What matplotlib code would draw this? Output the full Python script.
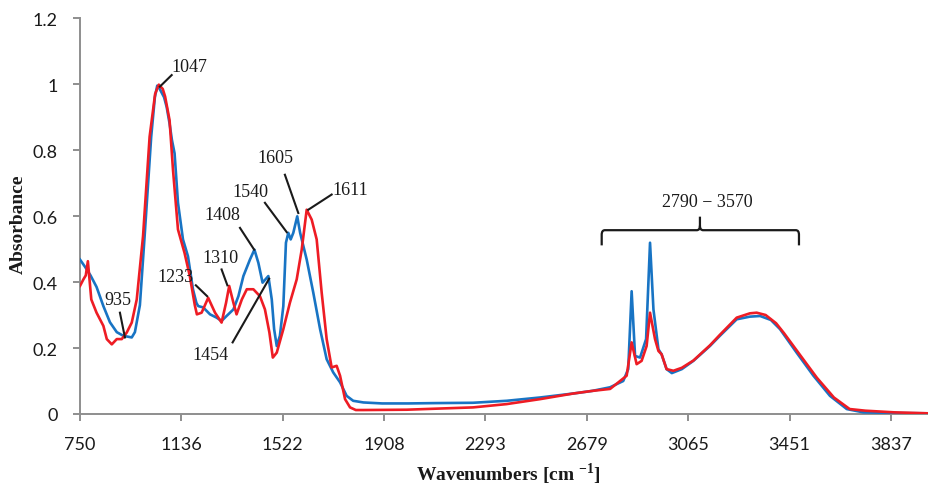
import matplotlib
matplotlib.use("Agg")
import matplotlib.pyplot as plt
from matplotlib.path import Path
from matplotlib.patches import PathPatch

plt.rcParams['mathtext.fontset'] = 'custom'
plt.rcParams['mathtext.rm'] = 'Liberation Serif'
plt.rcParams['mathtext.bf'] = 'Liberation Serif:bold'

# ---------------- data ----------------
blue_wn = [750, 770, 790, 813, 839, 864, 890, 915, 947, 959, 978, 996, 1021, 1035, 1044, 1050,
           1060, 1070, 1080, 1091, 1100, 1110, 1123, 1142, 1161, 1180, 1193, 1200, 1219, 1245,
           1270, 1289, 1308, 1334, 1353, 1372, 1397, 1414, 1429, 1445, 1467, 1480, 1489, 1499,
           1511, 1524, 1534, 1543, 1552, 1562, 1577, 1588, 1613, 1638, 1664, 1689, 1714, 1740,
           1765, 1790, 1829, 1900, 2000, 2100, 2246, 2374, 2501, 2627, 2700, 2768, 2818, 2837,
           2850, 2863, 2882, 2905, 2920, 2933, 2952, 2964, 2983, 3003, 3041, 3085, 3148, 3186,
           3250, 3300, 3339, 3380, 3415, 3478, 3542, 3605, 3669, 3732, 3850, 3982]
blue_abs = [0.468, 0.445, 0.42, 0.385, 0.327, 0.278, 0.248, 0.237, 0.232, 0.248, 0.33, 0.539,
            0.84, 0.96, 0.995, 0.99, 0.975, 0.96, 0.93, 0.88, 0.83, 0.79, 0.64, 0.529, 0.478,
            0.378, 0.337, 0.327, 0.323, 0.302, 0.292, 0.282, 0.297, 0.317, 0.357, 0.418, 0.468,
            0.498, 0.458, 0.398, 0.418, 0.347, 0.257, 0.206, 0.237, 0.327, 0.519, 0.549, 0.529,
            0.549, 0.599, 0.549, 0.468, 0.368, 0.257, 0.166, 0.126, 0.096, 0.055, 0.04, 0.035,
            0.032, 0.032, 0.033, 0.034, 0.04, 0.05, 0.062, 0.07, 0.081, 0.10, 0.136, 0.372,
            0.176, 0.171, 0.227, 0.519, 0.317, 0.196, 0.181, 0.136, 0.124, 0.136, 0.161, 0.206,
            0.237, 0.287, 0.295, 0.297, 0.285, 0.257, 0.186, 0.116, 0.055, 0.015, 0.005, 0.003,
            0.002]

red_wn = [750, 763, 772, 780, 793, 813, 839, 852, 871, 890, 909, 928, 947, 966, 990, 1015, 1036,
          1050, 1065, 1074, 1091, 1104, 1123, 1148, 1168, 1187, 1195, 1213, 1238, 1264, 1289,
          1306, 1318, 1334, 1346, 1366, 1385, 1410, 1435, 1454, 1471, 1484, 1499, 1524, 1549,
          1575, 1594, 1613, 1632, 1651, 1670, 1689, 1708, 1727, 1740, 1759, 1778, 1800, 1829,
          1994, 2100, 2246, 2374, 2501, 2627, 2700, 2768, 2831, 2850, 2869, 2888, 2907, 2920,
          2939, 2952, 2964, 2983, 3009, 3041, 3085, 3148, 3186, 3250, 3300, 3326, 3360, 3400,
          3430, 3490, 3555, 3620, 3680, 3740, 3850, 3982]
red_abs = [0.388, 0.408, 0.42, 0.463, 0.347, 0.307, 0.267, 0.227, 0.211, 0.227, 0.227, 0.247,
           0.277, 0.347, 0.539, 0.84, 0.97, 0.998, 0.985, 0.962, 0.89, 0.74, 0.559, 0.488, 0.418,
           0.33, 0.302, 0.307, 0.352, 0.307, 0.277, 0.337, 0.388, 0.337, 0.302, 0.347, 0.378,
           0.378, 0.357, 0.317, 0.247, 0.171, 0.186, 0.257, 0.337, 0.408, 0.498, 0.619, 0.589,
           0.529, 0.368, 0.227, 0.141, 0.146, 0.116, 0.045, 0.02, 0.012, 0.012, 0.013, 0.016,
           0.02, 0.03, 0.045, 0.062, 0.07, 0.076, 0.116, 0.217, 0.151, 0.161, 0.206, 0.307,
           0.227, 0.191, 0.181, 0.136, 0.131, 0.14, 0.162, 0.208, 0.24, 0.292, 0.305, 0.307,
           0.30, 0.275, 0.245, 0.18, 0.11, 0.05, 0.015, 0.01, 0.005, 0.002]

x_ticks = [750, 1136, 1522, 1908, 2293, 2679, 3065, 3451, 3837]
y_ticks = [0, 0.2, 0.4, 0.6, 0.8, 1.0, 1.2]
y_tick_labels = ["0", "0.2", "0.4", "0.6", "0.8", "1", "1.2"]

# peak labels: text, text position, leader line start, leader line end
peak_labels = ["1047", "935", "1233", "1310", "1408", "1454", "1540", "1605", "1611"]
label_pos = [(1166, 1.052), (896, 0.347), (1112, 0.418), (1283, 0.473), (1293, 0.604),
             (1245, 0.181), (1397, 0.675), (1495, 0.776), (1778, 0.68)]
line_from = [(1099, 1.027), (902, 0.307), (1191, 0.39), (1289, 0.438), (1359, 0.564),
             (1331, 0.217), (1454, 0.64), (1530, 0.725), (1708, 0.665)]
line_to = [(1054, 0.992), (921, 0.232), (1234, 0.357), (1311, 0.39), (1413, 0.498),
           (1470, 0.41), (1537, 0.551), (1581, 0.609), (1619, 0.619)]

range_label = "2790 \u2212 3570"

# ---------------- figure ----------------
fig = plt.figure(figsize=(9.29, 4.89), dpi=100)
ax = fig.add_axes([80 / 929, 74 / 489, 849 / 929, 396 / 489])

ax.plot(blue_wn, blue_abs, color="#1874C4", lw=1.9, solid_joinstyle="round", zorder=3)
ax.plot(red_wn, red_abs, color="#EE1C24", lw=1.9, solid_joinstyle="round", zorder=4)

ax.set_xlim(750, 3982)
ax.set_ylim(0, 1.2)

ax.set_xticks(x_ticks)
ax.set_xticklabels([str(t) for t in x_ticks])
ax.set_yticks(y_ticks)
ax.set_yticklabels(y_tick_labels)

axis_grey = "#8E8E8E"
for s in ["top", "right"]:
    ax.spines[s].set_visible(False)
for s in ["left", "bottom"]:
    ax.spines[s].set_color(axis_grey)
    ax.spines[s].set_linewidth(1.4)
ax.tick_params(axis="both", direction="out", length=5, width=1.4, color=axis_grey,
               labelsize=13, labelcolor="#1a1a1a")
ax.tick_params(axis="y", pad=11)
ax.tick_params(axis="x", pad=11)
for lab in ax.get_xticklabels() + ax.get_yticklabels():
    lab.set_family(["Lato", "DejaVu Sans"])

serif = ["Liberation Serif", "DejaVu Serif"]
for txt, tp, a, b in zip(peak_labels, label_pos, line_from, line_to):
    ax.text(tp[0], tp[1], txt, ha="center", va="center", fontsize=13,
            family=serif, color="#1a1a1a", zorder=6)
    ax.plot([a[0], b[0]], [a[1], b[1]], color="#1a1a1a", lw=1.5, zorder=5)

# bracket 2790 - 3570
L, R, C = 2736, 3487, 3110
yh, ye, yt = 0.557, 0.511, 0.598
dx, dy = 12, 0.014
verts = [(L, ye), (L, yh - dy), (L, yh), (L + dx, yh), (C - dx, yh), (C, yh), (C, yh + dy),
         (C, yt), (C, yh + dy), (C, yh), (C + dx, yh), (R - dx, yh), (R, yh), (R, yh - dy),
         (R, ye)]
codes = [Path.MOVETO, Path.LINETO, Path.CURVE3, Path.CURVE3, Path.LINETO, Path.CURVE3,
         Path.CURVE3, Path.LINETO, Path.MOVETO, Path.CURVE3, Path.CURVE3, Path.LINETO,
         Path.CURVE3, Path.CURVE3, Path.LINETO]
ax.add_patch(PathPatch(Path(verts, codes), fill=False, color="#1a1a1a", lw=1.6, zorder=5,
                       clip_on=False))
ax.text(3137, 0.644, range_label, ha="center", va="center", fontsize=13, family=serif,
        color="#1a1a1a")

fig.text(18 / 929, 1 - 224 / 489, "Absorbance", rotation=90, ha="center", va="center",
         fontsize=14, fontweight="bold", family=serif, color="#1a1a1a")
fig.text(508 / 929, 2 / 489, r"Wavenumbers [cm $^{\mathbf{-1}}$]", ha="center",
         va="bottom", fontsize=14, fontweight="bold", family=serif, color="#1a1a1a")

fig.savefig("out.png", dpi=100)
